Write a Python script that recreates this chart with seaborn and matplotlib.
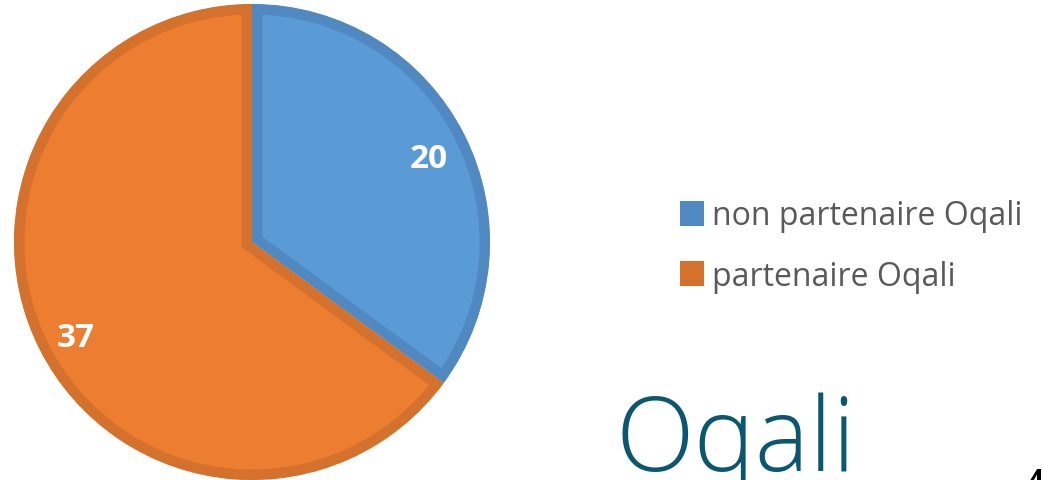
import matplotlib
matplotlib.use("Agg")
import matplotlib.pyplot as plt
import matplotlib.transforms as mtransforms
import seaborn as sns
from matplotlib.patches import Patch

# data
categories = ["non partenaire Oqali", "partenaire Oqali"]
counts = [20, 37]
fill_colors = ["#5B9BD5", "#ED7D31"]
edge_colors = ["#5089C2", "#D4712D"]

sns.set_theme(style="white")
plt.rcParams['font.family'] = ['Open Sans', 'DejaVu Sans']

fig = plt.figure(figsize=(10.42, 4.81), dpi=100)
ax = fig.add_axes([0, 0, 1, 1])

total = sum(counts)
wedges, texts, autotexts = ax.pie(
    counts, colors=fill_colors, startangle=90, counterclock=False,
    center=(252, 238), radius=238, pctdistance=0.83,
    autopct=lambda p: f"{round(p * total / 100)}",
    wedgeprops=dict(linewidth=15, antialiased=True),
    textprops=dict(color="white", fontsize=24, fontweight="bold"))

ax.set_xlim(0, 1042)
ax.set_ylim(0, 481)
ax.axis("off")

# inner border: stroke clipped to the wedge itself
for w, ec in zip(wedges, edge_colors):
    w.set_edgecolor(ec)
    w.set_clip_on(True)
    w.set_clip_path(w)

# nudge value labels down a little
shift = mtransforms.ScaledTranslation(0, -6 / 100, fig.dpi_scale_trans)
for t in autotexts:
    t.set_transform(t.get_transform() + shift)

handles = [Patch(facecolor=c, edgecolor="none") for c in edge_colors]
leg = ax.legend(handles, categories, loc="center left",
                bbox_to_anchor=(680 / 1042, 1 - 247 / 481),
                frameon=False, fontsize=23, handlelength=0.75, handleheight=0.8,
                handletextpad=0.25, labelspacing=0.85, borderpad=0,
                borderaxespad=0)
for t in leg.get_texts():
    t.set_color("#595959")

# logo + page number
fig.text(616 / 1042, 1 - 471 / 481, "Oqali", color="#0B5670", fontsize=74,
         fontweight="light", ha="left", va="baseline")
fig.text(1028 / 1042, 1 - 490 / 481, "4", color="black", fontsize=20,
         fontweight="bold", ha="left", va="baseline")

fig.savefig("out.png", dpi=100)
